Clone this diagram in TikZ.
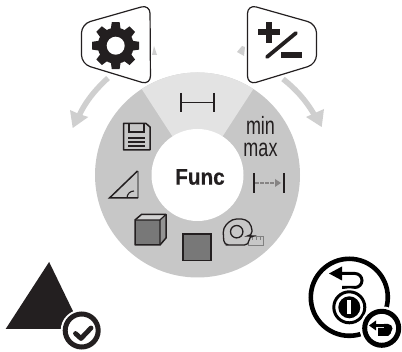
\documentclass[tikz,border=0pt]{standalone}
\usepackage{fontspec}
\setmainfont{Liberation Sans}
\usetikzlibrary{calc}
\definecolor{ink}{HTML}{231F20}
\definecolor{ringg}{gray}{0.78}
\definecolor{lightg}{gray}{0.89}
\definecolor{arrowg}{gray}{0.81}
\definecolor{fillg}{gray}{0.47}
\tikzset{
  icon/.style={draw=ink,line width=1.5pt,line join=miter},
  panel/.style={draw=ink,fill=white,line width=1.2pt,rounded corners=9pt},
  greyarrow/.style={draw=arrowg,line width=5.5pt},
  headfill/.style={fill=arrowg,draw=none},
  label/.style={inner sep=0pt,text=ink},
}
\begin{document}
\begin{tikzpicture}[x=1pt,y=-1pt]
\useasboundingbox (0,0) rectangle (402,352);
% ring
\coordinate (C) at (197.5,175);
\fill[ringg] (C) circle[radius=102.5];
\fill[lightg] (C) -- ($(C)+(-55.8,-86)$) arc[start angle=-123,end angle=-57,radius=102.5] -- cycle;
\fill[white] (C) circle[radius=46];
% grey arrows
\draw[greyarrow] (108,78) .. controls (95,90) and (85,102) .. (78,118);
\fill[headfill] (70,110) -- (72.7,128) -- (88.3,117) -- (79,114) -- cycle;
\draw[greyarrow] (283,79) .. controls (297,90) and (307,102) .. (315,116);
\fill[headfill] (306,117) -- (321.7,127) -- (324,109) -- (315,113) -- cycle;
\fill[arrowg] (152,55) -- (154,46) -- (157,55) -- cycle;
\fill[arrowg] (237,52) -- (242,46) -- (245,47) -- (244,56) -- cycle;
% panels
\draw[panel] (150,4.5) -- (150.5,85) -- (81.5,64) -- (81.5,24) -- cycle;
\draw[panel] (247.5,4.5) -- (316.5,24) -- (316.5,64) -- (247.5,85) -- cycle;
% gear
\begin{scope}[shift={(115.7,45.7)}]
\foreach \a in {0,45,...,315}{\fill[ink,rotate=\a] (-5,-16) -- (-3.9,-23.5) -- (3.9,-23.5) -- (5,-16) -- cycle;}
\fill[ink] (0,0) circle[radius=18];
\fill[white] (0,0) circle[radius=9];
\end{scope}
% plus minus
\draw[ink,line width=6pt] (258,32) -- (280,32);
\draw[ink,line width=6.5pt] (269,22.5) -- (269,43.5);
\draw[ink,line width=3.8pt,line cap=round] (267,57) -- (296,33);
\draw[ink,line width=6pt] (281,55) -- (302,55);
% H bar
\draw[ink,line width=1.5pt] (181,93) -- (181,112) (214,93) -- (214,112) (181,102.5) -- (214,102.5);
% floppy
\draw[icon,line join=round] (123.5,123.5) -- (146,123.5) -- (150,127) -- (150,150) -- (123.5,150) -- cycle;
\draw[ink,line width=1.1pt] (129,123.5) -- (129,132) -- (144,132) -- (144,123.5);
\draw[ink,line width=1.1pt] (128,138) -- (145,138) (128,142) -- (145,142) (128,146) -- (145,146);
% set square
\draw[draw=gray,line width=2pt] (138,171) -- (138,198);
\draw[ink,line width=1.5pt,line join=miter] (137.5,171) -- (109.5,198) -- (138,198);
\draw[ink,line width=1.1pt] (127,198) arc[start angle=180,end angle=270,radius=7];
% cube
\fill[fillg] (135,220) rectangle (160,245);
\fill[gray!85] (160,220) -- (166,214.3) -- (166,238) -- (160,245) -- cycle;
\fill[gray!35] (135,220) -- (141.7,214.3) -- (166,214.3) -- (160,220) -- cycle;
\draw[icon,line join=round] (135,220) -- (141.7,214.3) -- (166,214.3) -- (166,238) -- (160,245) -- (135,245) -- cycle;
\draw[ink,line width=1.2pt] (135,220) -- (160,220) -- (166,214.3) (160,220) -- (160,245);
% square
\draw[icon,fill=fillg] (183,234) rectangle (211,260.5);
% tape
\draw[gray,line width=.9pt,fill=ringg] (248,236) rectangle (263,245);
\draw[gray,line width=.7pt] (252,236) -- (252,240) (256,236) -- (256,240) (260,236) -- (260,240);
\draw[ink,line width=1.3pt,fill=ringg,rounded corners=4.5pt] (230,245) -- (224,245) -- (223,228) -- (232,219) -- (246,219) -- (252,226) -- (252,236) -- (249,236) -- (249,245) -- cycle;
\draw[ink,line width=1.3pt] (236.7,231.7) circle[radius=6.2];
% extend icon
\draw[ink,line width=1.8pt] (254,173) -- (254,193) (284,173) -- (284,193);
\draw[ink!55,line width=1.3pt,dash pattern=on 3.5pt off 1.5pt] (255,183) -- (274,183);
\fill[ink!55] (281,183) -- (275,179) -- (275,187) -- cycle;
% text
\node[label,align=center,font=\fontsize{25}{21.5}\selectfont,xscale=.72] (minmax) at (260.5,136.5) {min\\max};
\node[label,font=\bfseries\fontsize{22.5}{22.5}\selectfont\addfontfeature{FakeBold=0.6},xscale=.92] (func) at (200,177) {Func};
% big triangle
\draw[ink,fill=ink,line width=2pt,line join=miter] (49,264) -- (7.5,328) -- (80,328) -- cycle;
\fill[white] (81.7,330.5) circle[radius=21];
\draw[ink,fill=white,line width=5pt] (81.7,330.5) circle[radius=16.5];
\draw[ink,line width=4.8pt,line join=round,line cap=round] (75.5,333.5) -- (81,338.5) -- (91,328);
% restore icon
\draw[black,line width=4.6pt] (349.3,297.3) circle[radius=38.5];
\draw[black,line width=3pt] (340,273.5) -- (355,273.5) arc[start angle=-90,end angle=90,radius=7] -- (342,287.5);
\fill[black] (329,273.5) -- (342,266.5) -- (342,280.5) -- cycle;
\fill[white] (349.3,307.3) circle[radius=19];
\draw[black,line width=3pt] (349.3,307.3) circle[radius=15.5];
\fill[black] (349.3,307.3) circle[radius=11];
\fill[white] (347.3,300.5) rectangle (351.3,314);
% small restore
\fill[white] (381.7,328.3) circle[radius=22];
\draw[black,fill=white,line width=5pt] (381.7,328.3) circle[radius=17];
\draw[black,line width=3pt] (375,325.5) -- (386,325.5);
\fill[black] (369,325.5) -- (376,320.5) -- (376,330.5) -- cycle;
\fill[black] (378,328) -- (390,328) -- (391,333) -- (388,336) -- (378,336) -- cycle;
\fill[black] (384,324) -- (388,324) arc[start angle=-90,end angle=90,radius=4.5] -- (384,333) -- cycle;
\end{tikzpicture}
\end{document}
